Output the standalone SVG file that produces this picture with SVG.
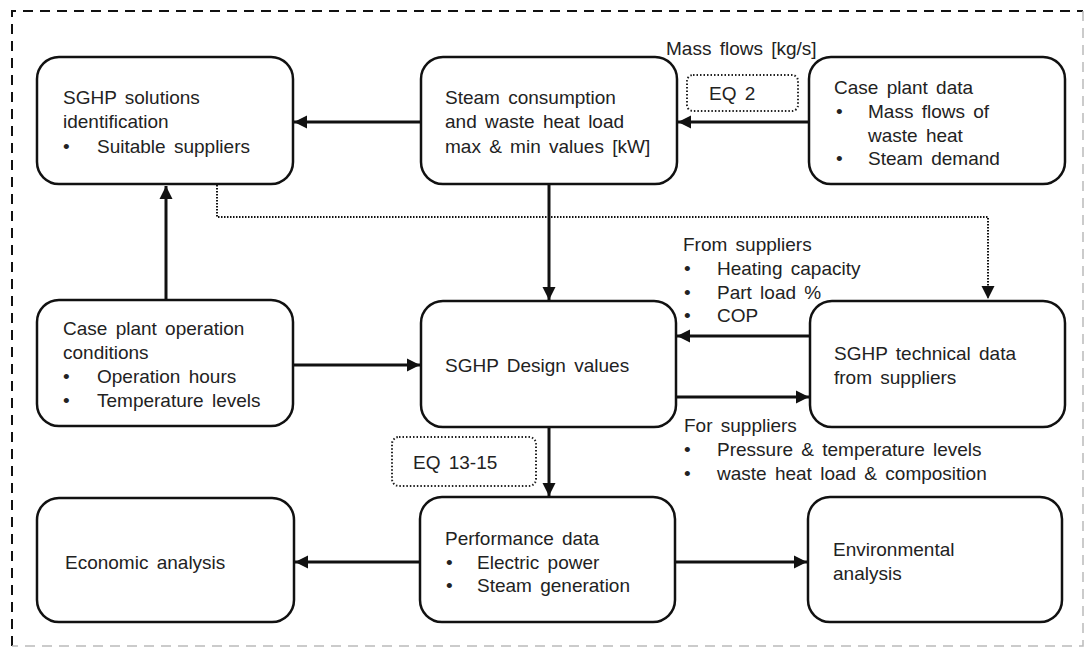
<svg xmlns="http://www.w3.org/2000/svg" width="1086" height="654" viewBox="0 0 1086 654">
  <style>
    .box { fill: #fff; stroke: #111; stroke-width: 2.5; }
    .eq { fill: none; stroke: #222; stroke-width: 2; stroke-dasharray: 1.5 2; }
    .t { font-family: "Liberation Sans", Arial, sans-serif; font-size: 19px; fill: #222; word-spacing: 3px; }
    .flow { fill: none; stroke: #111; stroke-width: 3; }
    .dot { fill: none; stroke: #111; stroke-width: 2; stroke-dasharray: 1.5 1.5; }
  </style>
  <defs>
    <marker id="arrow" markerUnits="userSpaceOnUse" markerWidth="14" markerHeight="14" viewBox="0 0 14 14" refX="13" refY="7" orient="auto">
      <path d="M0,0.5 L13,7 L0,13.5 Z" fill="#111"/>
    </marker>
  </defs>

  <rect width="1086" height="654" fill="#fff"/>

  <!-- outer dashed frame -->
  <g id="frame" fill="none" stroke-width="2" stroke-dasharray="10 7">
    <path d="M12,646 L12,11 L1083,11" stroke="#111"/>
    <path d="M1083,11 L1083,646 L12,646" stroke="#bbb" stroke-width="1.5"/>
  </g>

  <!-- connectors -->
  <g id="connectors">
    <line class="flow" x1="421" y1="122" x2="294" y2="122" marker-end="url(#arrow)"/>
    <line class="flow" x1="809" y1="122" x2="678" y2="122" marker-end="url(#arrow)"/>
    <polyline class="dot" points="217,185 217,217 988,217 988,299" marker-end="url(#arrow)"/>
    <line class="flow" x1="549" y1="185" x2="549" y2="300" marker-end="url(#arrow)"/>
    <line class="flow" x1="166" y1="300" x2="166" y2="186" marker-end="url(#arrow)"/>
    <line class="flow" x1="293" y1="365" x2="420" y2="365" marker-end="url(#arrow)"/>
    <line class="flow" x1="810" y1="336" x2="677" y2="336" marker-end="url(#arrow)"/>
    <line class="flow" x1="676" y1="397" x2="809" y2="397" marker-end="url(#arrow)"/>
    <line class="flow" x1="549" y1="427" x2="549" y2="496" marker-end="url(#arrow)"/>
    <line class="flow" x1="420" y1="562" x2="295" y2="562" marker-end="url(#arrow)"/>
    <line class="flow" x1="675" y1="562" x2="807" y2="562" marker-end="url(#arrow)"/>
  </g>

  <!-- connector labels -->
  <g id="labels">
    <text class="t" x="666" y="55">Mass flows [kg/s]</text>
    <rect class="eq" x="687" y="75" width="111" height="36" rx="6"/>
    <text class="t" x="709" y="100">EQ 2</text>
    <rect class="eq" x="392" y="437" width="144" height="49" rx="7"/>
    <text class="t" x="413" y="469">EQ 13-15</text>
    <text class="t" x="683" y="251">From suppliers</text>
    <text class="t" x="684" y="275">•</text><text class="t" x="717" y="275">Heating capacity</text>
    <text class="t" x="684" y="299">•</text><text class="t" x="717" y="299">Part load %</text>
    <text class="t" x="684" y="322">•</text><text class="t" x="717" y="322">COP</text>
    <text class="t" x="684" y="432">For suppliers</text>
    <text class="t" x="684" y="456">•</text><text class="t" x="717" y="456" word-spacing="1">Pressure &amp; temperature  levels</text>
    <text class="t" x="684" y="480">•</text><text class="t" x="717" y="480">waste heat load &amp; composition</text>
  </g>

  <g id="sghp-solutions">
    <rect class="box" x="37" y="57" width="256" height="127" rx="22"/>
    <text class="t" x="63" y="104">SGHP solutions</text>
    <text class="t" x="63" y="128">identification</text>
    <text class="t" x="63" y="153">•</text><text class="t" x="97" y="153">Suitable suppliers</text>
  </g>

  <g id="steam-consumption">
    <rect class="box" x="421" y="57" width="256" height="127" rx="22"/>
    <text class="t" x="445" y="104">Steam consumption</text>
    <text class="t" x="445" y="128">and waste heat load</text>
    <text class="t" x="445" y="153">max &amp; min values [kW]</text>
  </g>

  <g id="case-plant-data">
    <rect class="box" x="809" y="57" width="256" height="127" rx="22"/>
    <text class="t" x="834" y="94">Case plant data</text>
    <text class="t" x="836" y="118">•</text><text class="t" x="868" y="118">Mass flows of</text>
    <text class="t" x="868" y="142">waste heat</text>
    <text class="t" x="836" y="165">•</text><text class="t" x="868" y="165">Steam demand</text>
  </g>

  <g id="case-plant-operation">
    <rect class="box" x="37" y="300" width="256" height="126" rx="22"/>
    <text class="t" x="63" y="335">Case plant operation</text>
    <text class="t" x="63" y="359">conditions</text>
    <text class="t" x="63" y="383">•</text><text class="t" x="97" y="383">Operation hours</text>
    <text class="t" x="63" y="407">•</text><text class="t" x="97" y="407">Temperature levels</text>
  </g>

  <g id="sghp-design">
    <rect class="box" x="421" y="301" width="255" height="126" rx="22"/>
    <text class="t" x="445" y="372">SGHP Design values</text>
  </g>

  <g id="sghp-technical">
    <rect class="box" x="810" y="301" width="255" height="126" rx="22"/>
    <text class="t" x="834" y="360">SGHP technical data</text>
    <text class="t" x="834" y="384">from suppliers</text>
  </g>

  <g id="economic">
    <rect class="box" x="37" y="498" width="257" height="124" rx="22"/>
    <text class="t" x="65" y="569">Economic analysis</text>
  </g>

  <g id="performance">
    <rect class="box" x="420" y="497" width="255" height="125" rx="22"/>
    <text class="t" x="445" y="545">Performance data</text>
    <text class="t" x="446" y="569">•</text><text class="t" x="477" y="569">Electric power</text>
    <text class="t" x="446" y="592">•</text><text class="t" x="477" y="592">Steam generation</text>
  </g>

  <g id="environmental">
    <rect class="box" x="808" y="497" width="254" height="125" rx="22"/>
    <text class="t" x="833" y="556">Environmental</text>
    <text class="t" x="833" y="580">analysis</text>
  </g>
</svg>
